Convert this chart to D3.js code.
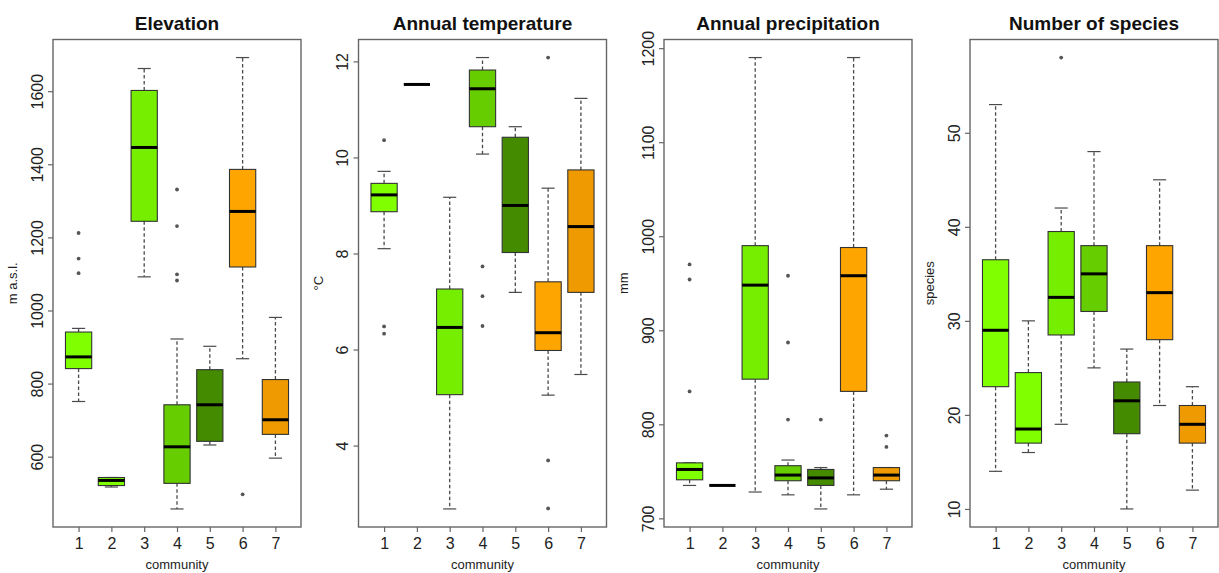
<!DOCTYPE html>
<html>
<head>
<meta charset="utf-8">
<script src="https://cdn.jsdelivr.net/npm/d3@7/dist/d3.min.js"></script>
<style>
  html, body { margin: 0; padding: 0; background: #fff; }
  svg { display: block; font-family: "Liberation Sans", Arial, sans-serif; }
</style>
</head>
<body>
<svg id="chart" width="1219" height="573"></svg>
<script>
// ---------- data ----------
const communities = [1, 2, 3, 4, 5, 6, 7];
const communityColors = ["#7FFF00", "#7FFF00", "#76EE00", "#66CD00", "#458B00", "#FFA500", "#EE9A00"];

const panelTitles = ["Elevation", "Annual temperature", "Annual precipitation", "Number of species"];
const yAxisLabels = ["m a.s.l.", "°C", "mm", "species"];
const xAxisLabel = "community";

// box statistics per community: [lower whisker, Q1, median, Q3, upper whisker]
const elevationStats = [
  [751, 841, 873, 941, 951],
  [517, 521, 535, 543, 543],
  [1092, 1244, 1446, 1602, 1662],
  [457, 527, 627, 742, 922],
  [632, 642, 742, 838, 902],
  [868, 1119, 1271, 1386, 1692],
  [596, 661, 701, 811, 981]
];
const elevationOutliers = [[1102, 1142, 1212], [], [], [1082, 1099, 1231, 1331], [], [497], []];
const elevationTicks = [600, 800, 1000, 1200, 1400, 1600];

const temperatureStats = [
  [8.10, 8.87, 9.22, 9.46, 9.71],
  [11.52, 11.52, 11.52, 11.52, 11.52],
  [2.68, 5.06, 6.46, 7.26, 9.17],
  [10.07, 10.64, 11.43, 11.82, 12.08],
  [7.19, 8.02, 9.00, 10.42, 10.64],
  [5.05, 5.98, 6.35, 7.41, 9.36],
  [5.48, 7.19, 8.56, 9.74, 11.23]
];
const temperatureOutliers = [[10.36, 6.48, 6.33], [], [], [7.73, 7.11, 6.49], [], [12.08, 3.69, 2.69], []];
const temperatureTicks = [4, 6, 8, 10, 12];

const precipitationStats = [
  [735, 741, 752, 759, 759],
  [735, 735, 735, 735, 735],
  [728, 848, 948, 990, 1190],
  [725, 740, 746, 756, 762],
  [710, 735, 743, 752, 754],
  [725, 835, 958, 988, 1190],
  [731, 740, 746, 754, 754]
];
const precipitationOutliers = [[970, 954, 835], [], [], [958, 887, 805], [805], [], [788, 776]];
const precipitationTicks = [700, 800, 900, 1000, 1100, 1200];

const speciesStats = [
  [14, 23, 29, 36.5, 53],
  [16, 17, 18.5, 24.5, 30],
  [19, 28.5, 32.5, 39.5, 42],
  [25, 31, 35, 38, 48],
  [10, 18, 21.5, 23.5, 27],
  [21, 28, 33, 38, 45],
  [12, 17, 19, 21, 23]
];
const speciesOutliers = [[], [], [58], [], [], [], []];
const speciesTicks = [10, 20, 30, 40, 50];

// ---------- layout ----------
const svg = d3.select("#chart");
const plotTop = 39.5, plotBottom = 527, plotWidth = 248;
const panelLefts = [53, 358.5, 664, 970];

const panels = [
  { stats: elevationStats, outliers: elevationOutliers, ticks: elevationTicks },
  { stats: temperatureStats, outliers: temperatureOutliers, ticks: temperatureTicks },
  { stats: precipitationStats, outliers: precipitationOutliers, ticks: precipitationTicks },
  { stats: speciesStats, outliers: speciesOutliers, ticks: speciesTicks }
];

panels.forEach((p, i) => {
  const left = panelLefts[i];
  const g = svg.append("g").attr("transform", `translate(${left},0)`);

  // R-style 4% expanded ranges
  const n = communities.length;
  const xScale = d3.scaleLinear()
    .domain([0.5 - 0.04 * n, n + 0.5 + 0.04 * n])
    .range([0, plotWidth]);
  const allVals = p.stats.flat().concat(p.outliers.flat());
  const [mn, mx] = d3.extent(allVals);
  const pad = (mx - mn) * 0.04;
  const yScale = d3.scaleLinear()
    .domain([mn - pad, mx + pad])
    .range([plotBottom, plotTop]);

  const halfBox = (xScale(1.4) - xScale(1));
  const halfStaple = (xScale(1.2) - xScale(1));

  communities.forEach((c, k) => {
    const [lw, q1, med, q3, uw] = p.stats[k];
    const cx = xScale(c);
    const bg = g.append("g");
    // whiskers (dashed)
    [[q3, uw], [q1, lw]].forEach(([a, b]) => {
      bg.append("line")
        .attr("x1", cx).attr("x2", cx)
        .attr("y1", yScale(a)).attr("y2", yScale(b))
        .attr("stroke", "#4a4a4a").attr("stroke-width", 1.3)
        .attr("stroke-dasharray", "3.5,2.5");
    });
    // staples
    [lw, uw].forEach(v => {
      bg.append("line")
        .attr("x1", cx - halfStaple).attr("x2", cx + halfStaple)
        .attr("y1", yScale(v)).attr("y2", yScale(v))
        .attr("stroke", "#4a4a4a").attr("stroke-width", 1.2);
    });
    // box
    if (q3 > q1) {
      bg.append("rect")
        .attr("x", cx - halfBox).attr("width", 2 * halfBox)
        .attr("y", yScale(q3)).attr("height", yScale(q1) - yScale(q3))
        .attr("fill", communityColors[k])
        .attr("stroke", "#333").attr("stroke-width", 1.1);
    }
    // median
    bg.append("line")
      .attr("x1", cx - halfBox).attr("x2", cx + halfBox)
      .attr("y1", yScale(med)).attr("y2", yScale(med))
      .attr("stroke", "#000").attr("stroke-width", 3);
    // outliers
    bg.selectAll("circle.out").data(p.outliers[k]).enter()
      .append("circle")
      .attr("class", "out")
      .attr("cx", cx).attr("cy", d => yScale(d))
      .attr("r", 1.9)
      .attr("fill", "#555");
  });

  // frame
  g.append("rect")
    .attr("x", 0).attr("y", plotTop)
    .attr("width", plotWidth).attr("height", plotBottom - plotTop)
    .attr("fill", "none").attr("stroke", "#666").attr("stroke-width", 1.4);

  // y axis
  const yAxis = g.append("g")
    .call(d3.axisLeft(yScale).tickValues(p.ticks).tickSize(5).tickFormat(d3.format("d")));
  yAxis.select(".domain").remove();
  yAxis.selectAll(".tick line").attr("stroke", "#666").attr("stroke-width", 1.2);
  yAxis.selectAll(".tick text")
    .attr("font-family", "Liberation Sans, Arial, sans-serif")
    .attr("font-size", 16).attr("fill", "#222")
    .attr("x", 0).attr("dy", null).attr("y", 0)
    .attr("text-anchor", "middle")
    .attr("transform", "translate(-10.5,0) rotate(-90)");

  // x axis
  const xAxis = g.append("g")
    .attr("transform", `translate(0,${plotBottom})`)
    .call(d3.axisBottom(xScale).tickValues(communities).tickSize(5).tickFormat(d3.format("d")));
  xAxis.select(".domain").remove();
  xAxis.selectAll(".tick line").attr("stroke", "#666").attr("stroke-width", 1.2);
  xAxis.selectAll(".tick text")
    .attr("font-family", "Liberation Sans, Arial, sans-serif")
    .attr("font-size", 16).attr("fill", "#222")
    .attr("dy", null).attr("y", 21.5);

  // axis titles
  g.append("text")
    .attr("x", plotWidth / 2).attr("y", 569)
    .attr("text-anchor", "middle")
    .attr("font-size", 13).attr("fill", "#222")
    .text(xAxisLabel);
  g.append("text")
    .attr("transform", `translate(-36,${(plotTop + plotBottom) / 2}) rotate(-90)`)
    .attr("text-anchor", "middle")
    .attr("font-size", 13).attr("fill", "#222")
    .text(yAxisLabels[i]);

  // title
  g.append("text")
    .attr("x", plotWidth / 2).attr("y", 30)
    .attr("text-anchor", "middle")
    .attr("font-size", 19).attr("font-weight", "bold").attr("fill", "#111")
    .text(panelTitles[i]);
});
</script>
</body>
</html>
